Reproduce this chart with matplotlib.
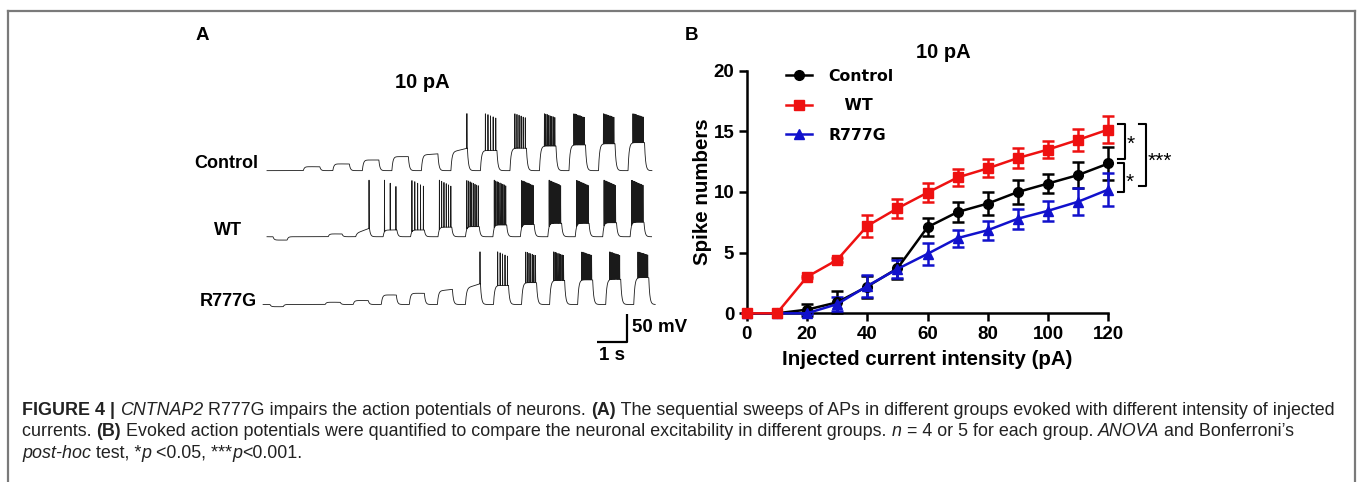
import numpy as np
import matplotlib
matplotlib.use('Agg')
import matplotlib.pyplot as plt
from matplotlib.lines import Line2D

W, H, DPI = 1360, 482, 100

# ---------------- Panel B data (spike numbers vs injected current) ----------------
current_pA = [0, 10, 20, 30, 40, 50, 60, 70, 80, 90, 100, 110, 120]
control_mean = [0, 0, 0.3, 0.9, 2.2, 3.7, 7.1, 8.35, 9.05, 10.0, 10.7, 11.4, 12.35]
control_sem = [0, 0, 0.5, 0.9, 0.9, 0.9, 0.75, 0.85, 0.95, 1.0, 0.8, 1.1, 1.4]
wt_mean = [0, 0, 3.0, 4.4, 7.2, 8.65, 9.95, 11.2, 11.95, 12.8, 13.5, 14.3, 15.15]
wt_sem = [0, 0, 0.1, 0.2, 0.9, 0.77, 0.77, 0.7, 0.75, 0.82, 0.7, 0.88, 1.15]
r777g_mean = [0, 0, 0.0, 0.75, 2.25, 3.65, 4.9, 6.2, 6.85, 7.8, 8.45, 9.2, 10.2]
r777g_sem = [0, 0, 0.05, 0.6, 0.9, 0.75, 0.88, 0.7, 0.8, 0.82, 0.82, 1.1, 1.37]
group_labels = ['Control', '   WT', 'R777G']
x_ticks = [0, 20, 40, 60, 80, 100, 120]
y_ticks = [0, 5, 10, 15, 20]

# ---------------- Panel A data (representative sweeps, 10-120 pA steps) ----------------
control_plateau_mV = [7, 12, 19, 25, 28, 33, 36, 40, 44, 46, 48, 50]
control_ramp_mV = [0, 0, 0, 0, 2, 7, 0, 0, 0, 0, 0, 0]
control_spikes = [0, 0, 0, 0, 0, 1, 5, 6, 8, 9, 9, 10]
wt_plateau_mV = [5, 6, 12, 12, 17, 18, 21, 22, 24, 24, 25, 26]
wt_ramp_mV = [0, 9, 0, 0, 0, 0, 0, 0, 0, 0, 0, 0]
wt_spikes = [0, 1, 3, 5, 6, 8, 9, 10, 11, 12, 13, 14]
r777g_plateau_mV = [4, 7, 17, 20, 24, 29, 34, 39, 43, 44, 45, 48]
r777g_ramp_mV = [0, 0, 0, 0, 3, 8, 0, 0, 0, 0, 0, 0]
r777g_spikes = [0, 0, 0, 0, 0, 1, 5, 7, 8, 9, 9, 10]
spike_peak_mV = {'Control': 102, 'WT': 101, 'R777G': 94}

plt.rcParams['font.family'] = ['Liberation Sans', 'DejaVu Sans']
fig = plt.figure(figsize=(W / DPI, H / DPI), dpi=DPI)
fig.patch.set_facecolor('white')


def fx(px):
    return px / W


def fy(py):
    return 1 - py / H


# ---------------- figure border ----------------
border_c = '#7a7a7a'
for xs, ys in [([7.5, 7.5], [H + 5, 11]), ([7.5, 1355], [11, 11]), ([1355, 1355], [11, H + 5])]:
    fig.add_artist(Line2D([fx(x) for x in xs], [fy(y) for y in ys], color=border_c, lw=1.6))

# ---------------- Panel A ----------------
axA = fig.add_axes([fx(180), fy(370), 510 / W, 350 / H])
axA.set_xlim(0, 17)
axA.set_ylim(0, 625)
axA.axis('off')


def build_trace(onset0, period, dur, plateau, ramp, nspk, peak, end, spk_from,
                dip=0.0, dip_win=(0, 0)):
    t = np.arange(0, end, 0.0004)
    v = np.zeros_like(t)
    tau = 0.035
    if dip:
        on = (t >= dip_win[0]) & (t < dip_win[1])
        v += np.where(on, dip * (1 - np.exp(-(t - dip_win[0]) / tau)), 0)
        vend = dip * (1 - np.exp(-(dip_win[1] - dip_win[0]) / tau))
        v += np.where(t >= dip_win[1], vend * np.exp(-np.clip(t - dip_win[1], 0, None) / tau), 0)
    spikes = []
    for k in range(len(plateau)):
        t0 = onset0 + k * period
        t1 = t0 + dur
        on = (t >= t0) & (t < t1)
        target = plateau[k] + ramp[k] * (t - t0) / dur
        v += np.where(on, target * (1 - np.exp(-np.clip(t - t0, 0, None) / tau)), 0)
        vend = (plateau[k] + ramp[k]) * (1 - np.exp(-dur / tau))
        v += np.where(t >= t1, vend * np.exp(-np.clip(t - t1, 0, None) / tau), 0)
        n = nspk[k]
        if n == 1:
            spikes.append((t0 + 0.97 * dur, 1.0))
        elif n > 1:
            for j, f in enumerate(np.linspace(spk_from, 0.93, n)):
                spikes.append((t0 + f * dur, 1.0 - 0.12 * j / (n - 1)))
    vs = v.copy()
    for ts, rel in spikes:
        base = np.interp(ts, t, v)
        vs += (peak - base) * rel * np.exp(-((t - ts) / 0.0022) ** 2)
    return t, vs


traces = [
    ('Control', 2.9, 356, 1.21, 0.984, 0.55, control_plateau_mV, control_ramp_mV, control_spikes, 12.83, 0.3, 0, (0, 0)),
    ('WT', 2.9, 238, 2.04, 0.915, 0.46, wt_plateau_mV, wt_ramp_mV, wt_spikes, 12.82, 0.1, -6, (0.2, 0.67)),
    ('R777G', 2.77, 117, 2.07, 0.935, 0.50, r777g_plateau_mV, r777g_ramp_mV, r777g_spikes, 13.07, 0.28, -4, (0.23, 0.67)),
]
for name, x0, base, on0, per, dur, pl, rp, ns, end, sf, dip, dw in traces:
    t, v = build_trace(on0, per, dur, pl, rp, ns, spike_peak_mV[name], end, sf, dip, dw)
    axA.plot(x0 + t, base + v, color='#1a1a1a', lw=0.6)

# scale bar (1 s, 50 mV)
axA.plot([13.89, 14.89, 14.89], [50.5, 50.5, 100.5], color='black', lw=1.6, solid_capstyle='butt')
axA.text(15.07, 75, '50 mV', fontsize=13.5, fontweight='bold', ha='left', va='center')
axA.text(14.4, 26, '1 s', fontsize=13.5, fontweight='bold', ha='center', va='center')

# trace labels
lab_kw = dict(fontsize=13, fontweight='bold', va='center')
fig.text(fx(258), fy(164), 'Control', ha='right', **lab_kw)
fig.text(fx(242), fy(230), 'WT', ha='right', **lab_kw)
fig.text(fx(257), fy(302), 'R777G', ha='right', **lab_kw)
fig.text(fx(422), fy(82), '10 pA', fontsize=14.5, fontweight='bold', ha='center', va='center')
fig.text(fx(202), fy(35), 'A', fontsize=13.5, fontweight='bold', ha='center', va='center')
fig.text(fx(692), fy(35), 'B', fontsize=13.5, fontweight='bold', ha='center', va='center')

# ---------------- Panel B ----------------
x0p, x1p, y0p, y1p = 746.7, 1108.3, 313.3, 70.7
axB = fig.add_axes([fx(x0p), fy(y0p), (x1p - x0p) / W, (y0p - y1p) / H])
axB.set_xlim(0, 120)
axB.set_ylim(0, 20)
for s in ['top', 'right']:
    axB.spines[s].set_visible(False)
for s in ['left', 'bottom']:
    axB.spines[s].set_linewidth(1.8)
axB.set_xticks(x_ticks)
axB.set_yticks(y_ticks)
axB.tick_params(width=1.8, length=6, labelsize=13.5, pad=3)
for lab in axB.get_xticklabels() + axB.get_yticklabels():
    lab.set_fontweight('bold')
axB.set_xlabel('Injected current intensity (pA)', fontsize=14.8, fontweight='bold', labelpad=5)
axB.set_ylabel('Spike numbers', fontsize=14.8, fontweight='bold', labelpad=1)
fig.text(fx(943), fy(52), '10 pA', fontsize=14.5, fontweight='bold', ha='center', va='center')

red = '#ee1111'
blue = '#1111cc'
series = [
    (control_mean, control_sem, 'black', 'o', 7),
    (r777g_mean, r777g_sem, blue, '^', 7.5),
    (wt_mean, wt_sem, red, 's', 7),
]
handles = {}
for mean, sem, c, m, ms in series:
    eb = axB.errorbar(current_pA, mean, yerr=sem, color=c, marker=m, ms=ms, lw=1.8,
                      elinewidth=1.8, capsize=4, capthick=1.8, clip_on=False, zorder=3)
    for art in eb.lines[1] + eb.lines[2]:
        art.set_clip_on(False)
    handles[c] = Line2D([], [], color=c, marker=m, ms=ms, lw=1.8)

leg = axB.legend([handles['black'], handles[red], handles[blue]], group_labels,
                 loc='upper left', bbox_to_anchor=(0.11, 1.008), borderaxespad=0, borderpad=0,
                 frameon=False, handlelength=1.65, handletextpad=1.0, labelspacing=0.93,
                 prop={'family': 'DejaVu Sans', 'weight': 'bold', 'size': 11.3}, numpoints=1)

# significance brackets
bk = dict(color='black', lw=1.5, clip_on=False)
axB.plot([123.3, 125.5, 125.5, 123.3], [15.6, 15.6, 12.7, 12.7], **bk)
axB.plot([123.3, 125.2, 125.2, 123.3], [12.35, 12.35, 10.0, 10.0], **bk)
axB.plot([130.3, 132.5, 132.5, 130.3], [15.6, 15.6, 10.5, 10.5], **bk)
axB.text(126.2, 13.9, '*', fontsize=15, ha='left', va='center')
axB.text(125.8, 10.8, '*', fontsize=15, ha='left', va='center')
axB.text(133.0, 12.5, '***', fontsize=15, ha='left', va='center')

# ---------------- caption ----------------
cap_c = '#222222'
cap_size = 12.9
renderer = fig.canvas.get_renderer()


def seg_width(txt, style):
    kw = dict(fontsize=cap_size, fontweight='bold' if 'b' in style else 'normal',
              fontstyle='italic' if 'i' in style else 'normal')
    t1 = fig.text(0, 0, txt + 'I', **kw)
    t2 = fig.text(0, 0, 'I', **kw)
    w = t1.get_window_extent(renderer).width - t2.get_window_extent(renderer).width
    t1.remove()
    t2.remove()
    return w


def caption_line(segments, x, y):
    for txt, style in segments:
        fig.text(fx(x), fy(y), txt, fontsize=cap_size, color=cap_c, va='baseline', ha='left',
                 fontweight='bold' if 'b' in style else 'normal',
                 fontstyle='italic' if 'i' in style else 'normal')
        x += seg_width(txt, style)


cap_lines = [
    [('FIGURE 4 | ', 'b'), ('CNTNAP2', 'i'), (' R777G impairs the action potentials of neurons. ', ''),
     ('(A)', 'b'), (' The sequential sweeps of APs in different groups evoked with different intensity of injected', '')],
    [('currents. ', ''), ('(B)', 'b'),
     (' Evoked action potentials were quantified to compare the neuronal excitability in different groups. ', ''),
     ('n', 'i'), (' = 4 or 5 for each group. ', ''), ('ANOVA', 'i'), (' and Bonferroni\u2019s', '')],
    [('post-hoc', 'i'), (' test, *', ''), ('p', 'i'), (' <0.05, ***', ''), ('p', 'i'), ('<0.001.', '')],
]
for i, segs in enumerate(cap_lines):
    caption_line(segs, 22, 415 + i * 21.5)

fig.savefig('out.png', dpi=DPI, facecolor='white')
